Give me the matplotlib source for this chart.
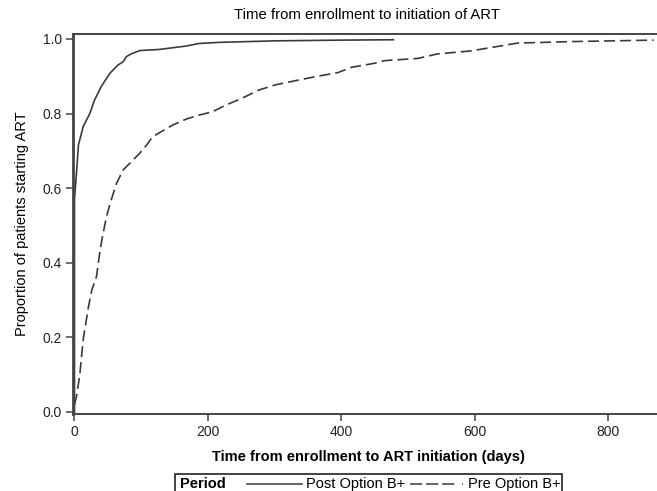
import matplotlib
matplotlib.use("Agg")
import matplotlib.pyplot as plt
from matplotlib.lines import Line2D
from matplotlib.patches import Rectangle

plt.rcParams['font.family'] = ['Liberation Sans', 'DejaVu Sans']

# 读取自图中的累积比例曲线
post_days = [0, 0, 3, 6, 13, 23, 30, 40, 53, 65, 73, 78, 85, 98, 127, 167, 187, 217, 300, 400, 478]
post_prop = [0.0, 0.57, 0.64, 0.716, 0.765, 0.80, 0.836, 0.872, 0.908, 0.93, 0.939, 0.953,
             0.96, 0.969, 0.972, 0.981, 0.988, 0.991, 0.995, 0.997, 0.998]

pre_days = [0, 3, 8, 13, 17, 21, 26, 33, 37, 41, 48, 55, 63, 73, 83, 98, 110, 117, 147, 167,
            187, 207, 227, 251, 276, 301, 336, 361, 395, 415, 450, 465, 515, 544, 594, 634,
            664, 743, 868]
pre_prop = [0.02, 0.041, 0.10, 0.193, 0.238, 0.282, 0.327, 0.363, 0.416, 0.461, 0.524, 0.568,
            0.613, 0.649, 0.667, 0.694, 0.72, 0.738, 0.769, 0.785, 0.796, 0.805, 0.823, 0.841,
            0.863, 0.877, 0.89, 0.899, 0.91, 0.924, 0.935, 0.942, 0.948, 0.96, 0.968, 0.98,
            0.989, 0.993, 0.997]

x_ticks = [0, 200, 400, 600, 800]
y_ticks = [0.0, 0.2, 0.4, 0.6, 0.8, 1.0]

line_col = '#3a3a3a'

fig = plt.figure(figsize=(6.57, 4.91), dpi=100)
ax = fig.add_axes([73 / 657, 1 - 414 / 491, 1 - 73 / 657 + 0.01, (414 - 34) / 491])

ax.plot(post_days, post_prop, color=line_col, lw=1.2)
ax.plot(pre_days, pre_prop, color=line_col, lw=1.2, dashes=(6.6, 3))

ax.set_xlim(-2.2, 883)
ax.set_ylim(-0.0054, 1.0134)
ax.set_xticks(x_ticks)
ax.set_yticks(y_ticks)
ax.set_yticklabels([f'{v:.1f}' for v in y_ticks])

for side in ['left', 'bottom', 'top', 'right']:
    ax.spines[side].set_color('#444444')
    ax.spines[side].set_linewidth(1.4)
ax.spines['left'].set_linewidth(2.0)
ax.tick_params(direction='out', length=5, width=1.1, color='#444444',
               labelsize=10, labelcolor='#222222', pad=3)

ax.set_xlabel('Time from enrollment to ART initiation (days)', fontsize=10.5,
              fontweight='bold', labelpad=8)
ax.set_ylabel('Proportion of patients starting ART', fontsize=10.5, labelpad=10)

fig.text(367 / 657, 1 - 15 / 491, 'Time from enrollment to initiation of ART',
         ha='center', va='center', fontsize=10.7)

# 图例（底部被裁切的方框）
W, H = 657, 491
def fx(px):
    return px / W
def fy(py):
    return 1 - py / H

fig.add_artist(Rectangle((fx(175), fy(495)), fx(562) - fx(175), fy(474) - fy(495),
                         transform=fig.transFigure, fill=False, ec='#222222', lw=1.2,
                         clip_on=False))
ly = fy(484)
fig.text(fx(180), ly, 'Period', fontsize=10.5, fontweight='bold', va='center', ha='left')
fig.add_artist(Line2D([fx(247), fx(302)], [ly, ly], transform=fig.transFigure,
                      color=line_col, lw=1.1))
fig.text(fx(306), ly, 'Post Option B+', fontsize=10.5, va='center', ha='left')
fig.add_artist(Line2D([fx(410), fx(463)], [ly, ly], transform=fig.transFigure,
                      color=line_col, lw=1.1, dashes=(8, 2.5, 8, 2.5, 8, 5, 1, 4)))
fig.text(fx(468), ly, 'Pre Option B+', fontsize=10.5, va='center', ha='left')

fig.savefig('out.png', dpi=100)
